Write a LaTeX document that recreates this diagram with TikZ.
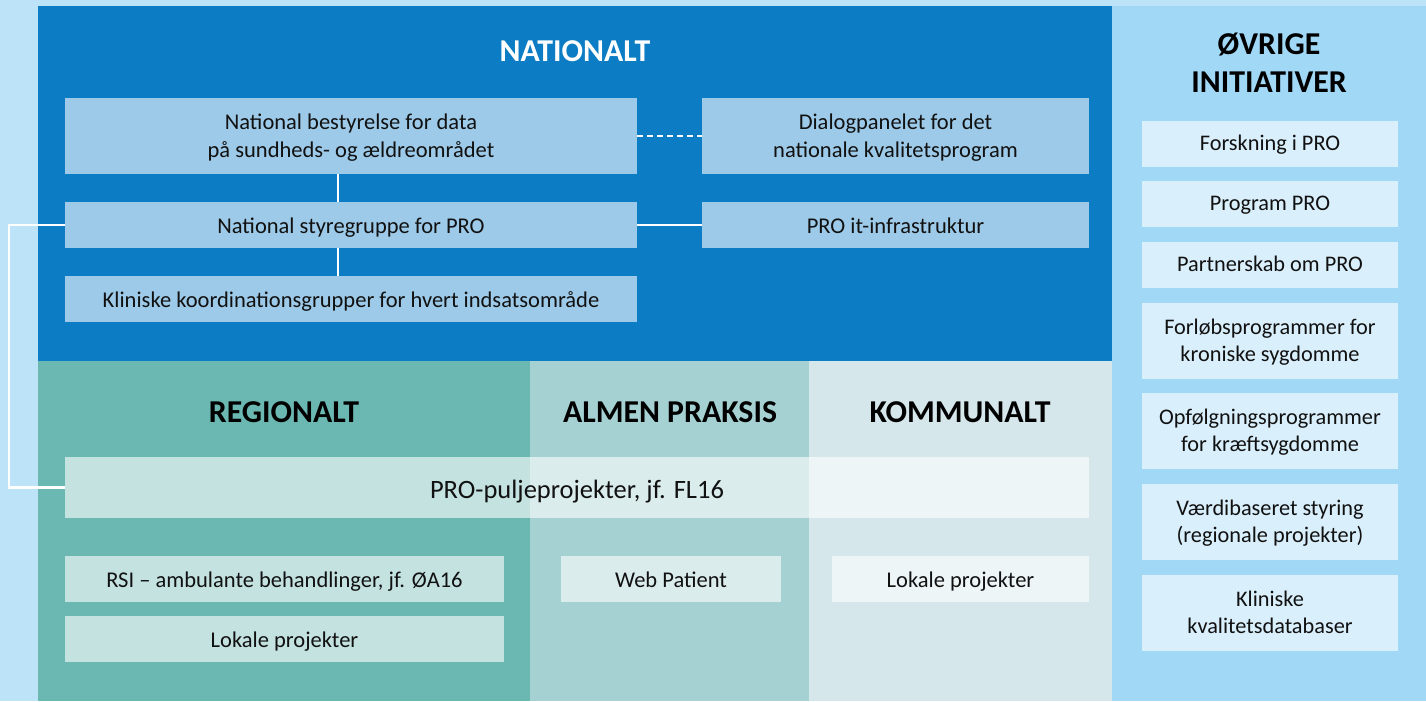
\documentclass[tikz,border=0pt]{standalone}
\usepackage{fontspec}
\setmainfont{Carlito}
\definecolor{bgc}{HTML}{BDE3F8}
\definecolor{natc}{HTML}{0C7DC4}
\definecolor{natbox}{HTML}{9DCAE8}
\definecolor{ovrc}{HTML}{A0D8F6}
\definecolor{ovrbox}{HTML}{D9EFFB}
\definecolor{regc}{HTML}{6BB8B2}
\definecolor{almc}{HTML}{A5D1D3}
\definecolor{komc}{HTML}{D5E7EA}
\definecolor{txtc}{HTML}{111111}
\begin{document}
\begin{tikzpicture}[x=1pt,y=-1pt,
  every node/.style={inner sep=0pt, outer sep=0pt},
  natbx/.style={fill=natbox, text=txtc, align=center, font=\fontsize{22.5}{28}\selectfont},
  ovrbx/.style={fill=ovrbox, text=txtc, align=center, minimum width=256pt, font=\fontsize{22.3}{27}\selectfont},
  lowbx/.style={fill=white, fill opacity=0.6, text opacity=1, text=txtc, align=center, font=\fontsize{22.5}{28}\selectfont},
  headtxt/.style={font=\fontsize{31.8}{38}\selectfont\bfseries, align=center},
  natone/.style={minimum height=46pt, text height=21pt, text depth=4pt},
  nattwo/.style={minimum height=76pt, text height=46pt, text depth=4pt},
  ovrone/.style={minimum height=46pt, text height=17.5pt, text depth=4pt},
  ovrtwo/.style={minimum height=76pt, text height=44.5pt, text depth=4pt},
  link/.style={draw=white, line width=2.2pt}
]
\useasboundingbox (0,0) rectangle (1426,701);
\fill[bgc] (0,0) rectangle (1426,701);
% regions
\fill[natc] (38,6) rectangle (1112,361);
\fill[ovrc] (1112,6) rectangle (1426,701);
\fill[regc] (38,361) rectangle (530,701);
\fill[almc] (530,361) rectangle (809,701);
\fill[komc] (809,361) rectangle (1112,701);

% headers
\node[headtxt, text=white] (hnat) at (575,51) {NATIONALT};
\node[headtxt, text=black] (hovr) at (1269,63) {ØVRIGE\\INITIATIVER};
\node[headtxt, text=black] (hreg) at (284,412) {REGIONALT};
\node[headtxt, text=black] (halm) at (670,412) {ALMEN PRAKSIS};
\node[headtxt, text=black] (hkom) at (960,412) {KOMMUNALT};

% national boxes
\node[natbx, nattwo, minimum width=572pt] (nb) at (351,136) {National bestyrelse for data\\på sundheds- og ældreområdet};
\node[natbx, nattwo, minimum width=387pt] (dp) at (895.5,136) {Dialogpanelet for det\\nationale kvalitetsprogram};
\node[natbx, natone, minimum width=572pt] (sg) at (351,225) {National styregruppe for PRO};
\node[natbx, natone, minimum width=387pt] (it) at (895.5,225) {PRO it-infrastruktur};
\node[natbx, natone, minimum width=572pt] (kk) at (351,299) {Kliniske koordinationsgrupper for hvert indsatsområde};

% lower boxes
\node[lowbx, minimum width=1024pt, minimum height=61pt, text height=25.5pt, text depth=4pt, font=\fontsize{26.5}{30}\selectfont] (pulje) at (577,487.5) {PRO-puljeprojekter, jf. FL16};
\node[lowbx, natone, minimum width=439pt] (rsi) at (284.5,579) {RSI – ambulante behandlinger, jf. ØA16};
\node[lowbx, natone, minimum width=439pt] (lpr) at (284.5,639) {Lokale projekter};
\node[lowbx, natone, minimum width=220pt] (web) at (671,579) {Web Patient};
\node[lowbx, natone, minimum width=257pt] (lpk) at (960.5,579) {Lokale projekter};

% right boxes
\node[ovrbx, ovrone] (o1) at (1270,144) {Forskning i PRO};
\node[ovrbx, ovrone] (o2) at (1270,204) {Program PRO};
\node[ovrbx, ovrone] (o3) at (1270,265) {Partnerskab om PRO};
\node[ovrbx, ovrtwo] (o4) at (1270,341) {Forløbsprogrammer for\\kroniske sygdomme};
\node[ovrbx, ovrtwo] (o5) at (1270,431) {Opfølgningsprogrammer\\for kræftsygdomme};
\node[ovrbx, ovrtwo] (o6) at (1270,522) {Værdibaseret styring\\(regionale projekter)};
\node[ovrbx, ovrtwo] (o7) at (1270,613) {Kliniske\\kvalitetsdatabaser};

% connectors
\draw[link] ([xshift=-13pt]nb.south) -- ([xshift=-13pt]sg.north);
\draw[link] ([xshift=-13pt]sg.south) -- ([xshift=-13pt]kk.north);
\draw[link, dash pattern=on 6pt off 4pt] (nb.east) -- (dp.west);
\draw[link] (sg.east) -- (it.west);
\coordinate (lft) at (9,0);
\draw[link] (sg.west) -- (sg.west -| lft) |- (pulje.west);
\end{tikzpicture}
\end{document}
